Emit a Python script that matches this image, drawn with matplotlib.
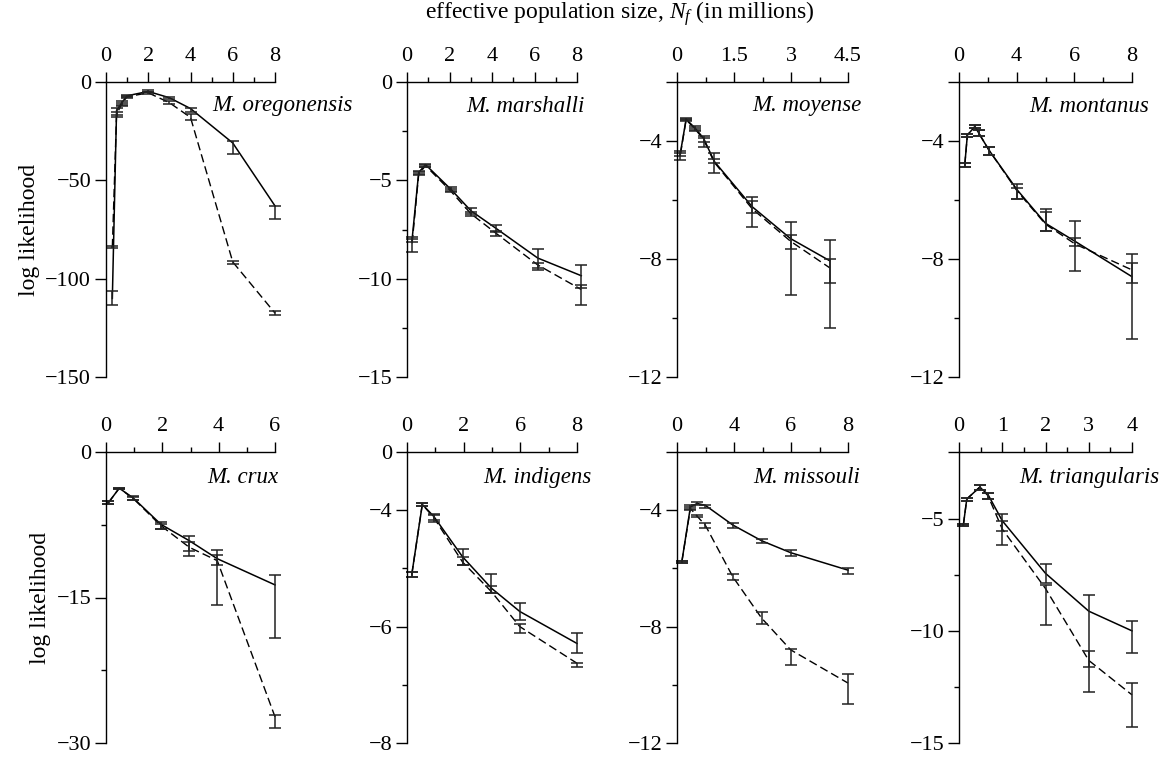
import numpy as np
import matplotlib.pyplot as plt
from matplotlib.ticker import FixedLocator, FixedFormatter

plt.rcParams['font.family'] = ['Liberation Serif', 'DejaVu Serif']
plt.rcParams['mathtext.fontset'] = 'custom'
plt.rcParams['mathtext.it'] = 'Liberation Serif:italic'
plt.rcParams['mathtext.rm'] = 'Liberation Serif'
plt.rcParams['axes.unicode_minus'] = True

# ---- data; each series: value, lower bar, upper bar ----
species = ['M. oregonensis', 'M. marshalli', 'M. moyense', 'M. montanus',
           'M. crux', 'M. indigens', 'M. missouli', 'M. triangularis']

# oregonensis
x_ore = [0.3, 0.5, 0.75, 1.0, 2, 3, 4, 6, 8]
sol_ore = [-110, -14.5, -10.5, -7, -4.8, -8, -13.5, -31, -63]
sol_ore_lo = [-113.5, -17, -11.5, -7.7, -5.3, -8.5, -15, -36.5, -69.5]
sol_ore_hi = [-106.5, -13, -9.5, -6.5, -4.3, -7.5, -13, -30, -63]
das_ore = [-84, -16.5, -11, -7.5, -5.5, -10.5, -18, -91.5, -117.5]
das_ore_lo = [-84.5, -18, -12, -8, -6, -11.3, -19.5, -92.3, -118.5]
das_ore_hi = [-83.5, -15.5, -10.5, -7, -5, -9.8, -16.5, -90.8, -116.5]

# marshalli
x_mar = [0.24, 0.55, 0.87, 2.06, 3.01, 4.2, 6.15, 8.2]
sol_mar = [-8.0, -4.6, -4.2, -5.45, -6.55, -7.45, -8.95, -9.85]
sol_mar_lo = [-8.15, -4.7, -4.3, -5.55, -6.7, -7.65, -9.45, -10.45]
sol_mar_hi = [-7.9, -4.5, -4.15, -5.35, -6.4, -7.25, -8.5, -9.3]
das_mar = [-8.2, -4.7, -4.25, -5.55, -6.7, -7.7, -9.3, -10.55]
das_mar_lo = [-8.65, -4.75, -4.3, -5.6, -6.8, -7.85, -9.55, -11.35]
das_mar_hi = [-8.0, -4.6, -4.2, -5.45, -6.6, -7.6, -9.2, -10.3]

# moyense
x_moy = [0.09, 0.24, 0.48, 0.7, 0.98, 1.98, 2.99, 4.02]
sol_moy = [-4.4, -3.26, -3.57, -3.91, -4.69, -6.23, -7.31, -8.06]
sol_moy_lo = [-4.5, -3.3, -3.62, -4.05, -4.75, -6.45, -7.66, -8.82]
sol_moy_hi = [-4.35, -3.22, -3.5, -3.83, -4.4, -5.9, -6.74, -7.34]
das_moy = [-4.45, -3.28, -3.6, -3.95, -4.72, -6.3, -7.4, -8.3]
das_moy_lo = [-4.63, -3.32, -3.66, -4.2, -5.09, -6.9, -9.23, -10.34]
das_moy_hi = [-4.42, -3.25, -3.55, -3.9, -4.6, -6.05, -7.18, -8.0]

# montanus (x in printed-axis units; tick labels as printed: 0, 4, 6, 8)
x_mon = [0.2, 0.29, 0.55, 0.69, 1.04, 2.02, 3.0, 4.04, 6.0]
sol_mon = [-4.81, -3.8, -3.51, -3.74, -4.31, -5.66, -6.79, -7.41, -8.6]
sol_mon_lo = [-4.87, -3.85, -3.57, -3.83, -4.46, -5.98, -7.06, -7.55, -8.82]
sol_mon_hi = [-4.76, -3.75, -3.46, -3.63, -4.2, -5.47, -6.29, -6.72, -7.83]
das_mon = [-4.81, -3.8, -3.51, -3.74, -4.31, -5.7, -6.82, -7.5, -8.37]
das_mon_lo = [-4.87, -3.85, -3.57, -3.83, -4.46, -5.98, -7.06, -8.4, -10.7]
das_mon_hi = [-4.76, -3.75, -3.46, -3.63, -4.2, -5.6, -6.4, -7.3, -8.13]

# crux
x_cru = [0.08, 0.47, 0.97, 1.95, 2.96, 3.95, 6.0]
sol_cru = [-5.25, -3.73, -4.75, -7.46, -9.15, -11.0, -13.7]
sol_cru_lo = [-5.4, -3.8, -4.92, -7.9, -10.2, -11.7, -19.2]
sol_cru_hi = [-5.1, -3.66, -4.58, -7.2, -8.64, -10.1, -12.7]
das_cru = [-5.25, -3.73, -4.8, -7.6, -9.83, -11.2, -27.3]
das_cru_lo = [-5.4, -3.8, -4.92, -7.9, -10.7, -15.8, -28.5]
das_cru_hi = [-5.1, -3.66, -4.6, -7.4, -9.3, -10.6, -27.1]

# indigens (x in printed-axis units; labels as printed: 0, 2, 6, 8)
x_ind = [0.17, 0.54, 0.95, 1.96, 2.98, 3.98, 6.0]
sol_ind = [-5.1, -3.9, -4.11, -4.8, -5.34, -5.74, -6.29]
sol_ind_lo = [-5.14, -3.93, -4.17, -4.94, -5.43, -5.88, -6.46]
sol_ind_hi = [-5.07, -3.87, -4.06, -4.67, -5.1, -5.6, -6.11]
das_ind = [-5.1, -3.9, -4.13, -4.89, -5.4, -6.0, -6.63]
das_ind_lo = [-5.14, -3.93, -4.2, -4.94, -5.43, -6.11, -6.7]
das_ind_hi = [-5.07, -3.87, -4.08, -4.8, -5.3, -5.95, -6.62]

# missouli (x in printed-axis units; labels as printed: 0, 4, 6, 8)
x_mis = [0.17, 0.47, 0.7, 0.99, 1.96, 2.97, 3.99, 6.0]
sol_mis = [-5.77, -3.89, -3.77, -3.83, -4.51, -5.05, -5.46, -6.06]
sol_mis_lo = [-5.8, -3.97, -3.83, -3.91, -4.6, -5.11, -5.56, -6.2]
sol_mis_hi = [-5.74, -3.83, -3.71, -3.83, -4.43, -4.99, -5.37, -6.0]
das_mis = [-5.77, -3.94, -4.2, -4.51, -6.29, -7.71, -8.8, -9.94]
das_mis_lo = [-5.8, -3.99, -4.23, -4.6, -6.39, -7.91, -9.31, -10.66]
das_mis_hi = [-5.74, -3.9, -4.17, -4.45, -6.2, -7.49, -8.78, -9.63]

# triangularis
x_tri = [0.1, 0.18, 0.48, 0.67, 1.0, 2.0, 3.0, 4.0]
sol_tri = [-5.27, -4.1, -3.57, -3.9, -5.07, -7.42, -9.11, -9.99]
sol_tri_lo = [-5.31, -4.19, -3.68, -4.1, -5.51, -7.86, -11.6, -10.97]
sol_tri_hi = [-5.22, -4.04, -3.47, -3.82, -4.78, -7.02, -8.4, -9.55]
das_tri = [-5.27, -4.1, -3.57, -3.95, -5.44, -8.1, -11.31, -12.85]
das_tri_lo = [-5.31, -4.19, -3.68, -4.1, -6.14, -9.72, -12.7, -14.28]
das_tri_hi = [-5.22, -4.04, -3.47, -3.82, -5.07, -7.95, -10.87, -12.34]

# axis ticks: (xlim, xmajor, xlabels, xminor, ylim, ymajor, ylabels, yminor)
axis_spec = [
    ((0, 8), [0, 2, 4, 6, 8], ['0', '2', '4', '6', '8'], [1, 3, 5, 7],
     (-150, 0), [0, -50, -100, -150], ['0', '−50', '−100', '−150'], []),
    ((0, 8), [0, 2, 4, 6, 8], ['0', '2', '4', '6', '8'], [1, 3, 5, 7],
     (-15, 0), [0, -5, -10, -15], ['0', '−5', '−10', '−15'], [-2.5, -7.5, -12.5]),
    ((0, 4.5), [0, 1.5, 3, 4.5], ['0', '1.5', '3', '4.5'], [0.75, 2.25, 3.75],
     (-12, -2), [-2, -4, -8, -12], ['', '−4', '−8', '−12'], [-6, -10]),
    ((0, 6), [0, 2, 4, 6], ['0', '4', '6', '8'], [1, 3, 5],
     (-12, -2), [-2, -4, -8, -12], ['', '−4', '−8', '−12'], [-6, -10]),
    ((0, 6), [0, 2, 4, 6], ['0', '2', '4', '6'], [1, 3, 5],
     (-30, 0), [0, -15, -30], ['0', '−15', '−30'], [-7.5, -22.5]),
    ((0, 6), [0, 2, 4, 6], ['0', '2', '6', '8'], [1, 3, 5],
     (-8, -3), [-3, -4, -6, -8], ['0', '−4', '−6', '−8'], [-5, -7]),
    ((0, 6), [0, 2, 4, 6], ['0', '4', '6', '8'], [1, 3, 5],
     (-12, -2), [-2, -4, -8, -12], ['', '−4', '−8', '−12'], [-6, -10]),
    ((0, 4), [0, 1, 2, 3, 4], ['0', '1', '2', '3', '4'], [0.5, 1.5, 2.5, 3.5],
     (-15, -2), [-2, -5, -10, -15], ['', '−5', '−10', '−15'], [-7.5, -12.5]),
]

panels = [
    (x_ore, sol_ore, sol_ore_lo, sol_ore_hi, das_ore, das_ore_lo, das_ore_hi),
    (x_mar, sol_mar, sol_mar_lo, sol_mar_hi, das_mar, das_mar_lo, das_mar_hi),
    (x_moy, sol_moy, sol_moy_lo, sol_moy_hi, das_moy, das_moy_lo, das_moy_hi),
    (x_mon, sol_mon, sol_mon_lo, sol_mon_hi, das_mon, das_mon_lo, das_mon_hi),
    (x_cru, sol_cru, sol_cru_lo, sol_cru_hi, das_cru, das_cru_lo, das_cru_hi),
    (x_ind, sol_ind, sol_ind_lo, sol_ind_hi, das_ind, das_ind_lo, das_ind_hi),
    (x_mis, sol_mis, sol_mis_lo, sol_mis_hi, das_mis, das_mis_lo, das_mis_hi),
    (x_tri, sol_tri, sol_tri_lo, sol_tri_hi, das_tri, das_tri_lo, das_tri_hi),
]

# ---- layout in pixels (left, right) per column, (top, bottom) per row ----
W, H = 1170, 757
cols = [(106, 275), (407, 577), (677, 848), (959, 1132)]
rows = [(82, 377), (452, 743)]
# right end (x px) and centre (y px) of each species label
label_right = [353, 585, 862, 1149, 278, 592, 860, 1159]
label_y = [106, 106, 106, 106, 477, 477, 477, 477]

fig = plt.figure(figsize=(W / 100, H / 100), dpi=100)

fs = 16
for k, (spec, data, name) in enumerate(zip(axis_spec, panels, species)):
    r, c = divmod(k, 4)
    l, rt = cols[c]
    t, b = rows[r]
    ax = fig.add_axes([l / W, (H - b) / H, (rt - l) / W, (b - t) / H])

    xlim, xmaj, xlab, xmin, ylim, ymaj, ylab, ymin = spec
    x, s, slo, shi, d, dlo, dhi = data
    x = np.array(x)
    s, slo, shi = np.array(s), np.array(slo), np.array(shi)
    d, dlo, dhi = np.array(d), np.array(dlo), np.array(dhi)

    ax.plot(x, d, color='black', lw=1.0, ls=(0, (6, 3)), clip_on=False)
    ax.plot(x, s, color='black', lw=1.1, clip_on=False)
    ax.errorbar(x, d, yerr=[d - dlo, dhi - d], fmt='none', ecolor='#222222',
                elinewidth=1.1, capsize=4.5, capthick=1.1, clip_on=False)
    ax.errorbar(x, s, yerr=[s - slo, shi - s], fmt='none', ecolor='#222222',
                elinewidth=1.1, capsize=4.5, capthick=1.1, clip_on=False)

    ax.set_xlim(*xlim)
    ax.set_ylim(*ylim)
    ax.xaxis.set_major_locator(FixedLocator(xmaj))
    ax.xaxis.set_major_formatter(FixedFormatter(xlab))
    ax.xaxis.set_minor_locator(FixedLocator(xmin))
    ax.yaxis.set_major_locator(FixedLocator(ymaj))
    ax.yaxis.set_major_formatter(FixedFormatter(ylab))
    ax.yaxis.set_minor_locator(FixedLocator(ymin))

    ax.xaxis.tick_top()
    ax.spines['right'].set_visible(False)
    ax.spines['bottom'].set_visible(False)
    for sp in ['top', 'left']:
        ax.spines[sp].set_linewidth(1.0)
    ax.tick_params(axis='x', which='major', direction='out', length=7, width=1.0,
                   labelsize=fs, pad=4.5)
    ax.tick_params(axis='x', which='minor', direction='out', length=3.5, width=1.0)
    ax.tick_params(axis='y', which='major', direction='out', length=8.2, width=1.0,
                   labelsize=fs, pad=2.5)
    ax.tick_params(axis='y', which='minor', direction='out', length=3.5, width=1.0)
    ax.patch.set_visible(False)

    if c == 0:
        ax.set_ylabel('log likelihood', fontsize=17, labelpad=4)

    fig.text(label_right[k] / W, 1 - label_y[k] / H, name, ha='right',
             va='center', fontsize=16.5, style='italic')

fig.text(620 / W, 1 - 14 / H, r'effective population size, $N_f$ (in millions)',
         ha='center', va='center', fontsize=17)

fig.savefig('out.png', dpi=100)
